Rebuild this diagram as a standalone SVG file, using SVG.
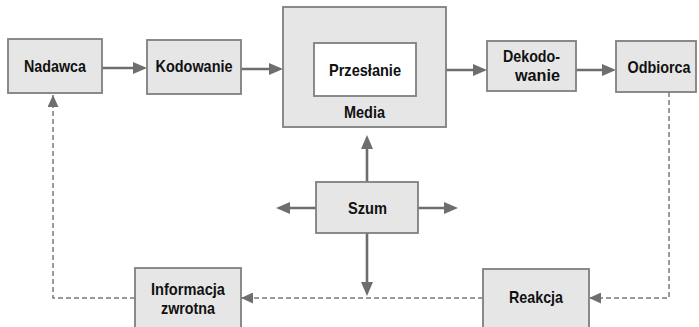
<svg xmlns="http://www.w3.org/2000/svg" width="699" height="327" viewBox="0 0 699 327">
<style>
.box{fill:#e6e6e6;stroke:#7f7f7f;stroke-width:1.8}
.inner{fill:#ffffff;stroke:#7f7f7f;stroke-width:1.8}
.lbl{font-family:"Liberation Sans",Arial,sans-serif;font-weight:bold;font-size:17px;fill:#111;text-anchor:middle}
.arr{fill:none;stroke:#6e6e6e;stroke-width:2.6;marker-end:url(#ah)}
.dash{fill:none;stroke:#7a7a7a;stroke-width:1.5;stroke-dasharray:5 3;marker-end:url(#dh)}
</style>
<defs>
<marker id="ah" markerUnits="userSpaceOnUse" markerWidth="14" markerHeight="12" refX="10" refY="6" orient="auto">
<path d="M0,0 L14,6 L0,12 z" fill="#6e6e6e"/>
</marker>
<marker id="dh" markerUnits="userSpaceOnUse" markerWidth="12" markerHeight="11" refX="12" refY="5.5" orient="auto">
<path d="M0,0 L12,5.5 L0,11 z" fill="#6e6e6e"/>
</marker>
</defs>
<g id="connectors">
<path class="arr" d="M102,68 H143"/>
<path class="arr" d="M241,69 H279"/>
<path class="arr" d="M446,70 H483"/>
<path class="arr" d="M576,70 H612"/>
<path class="arr" d="M367,182 V139"/>
<path class="arr" d="M367,233 V292"/>
<path class="arr" d="M316,208 H280"/>
<path class="arr" d="M418,208 H454"/>
<path class="dash" d="M669,92 V298 H589"/>
<path class="dash" d="M483,298 H241"/>
<path class="dash" d="M135,298 H53 V95"/>
</g>
<g id="nadawca">
<rect class="box" x="8" y="39" width="94" height="54"/>
<text class="lbl" x="55" y="72" textLength="62" lengthAdjust="spacingAndGlyphs">Nadawca</text>
</g>
<g id="kodowanie">
<rect class="box" x="147" y="40" width="94" height="54"/>
<text class="lbl" x="194" y="72" textLength="77" lengthAdjust="spacingAndGlyphs">Kodowanie</text>
</g>
<g id="media">
<rect class="box" x="283" y="7" width="163" height="120"/>
<text class="lbl" x="364.5" y="118" textLength="41" lengthAdjust="spacingAndGlyphs">Media</text>
</g>
<g id="przeslanie">
<rect class="inner" x="314" y="43" width="102" height="53"/>
<text class="lbl" x="365" y="76" textLength="72" lengthAdjust="spacingAndGlyphs">Przesłanie</text>
</g>
<g id="dekodowanie">
<rect class="box" x="487" y="41" width="89" height="50"/>
<text class="lbl" x="531.5" y="62" textLength="57" lengthAdjust="spacingAndGlyphs">Dekodo-</text>
<text class="lbl" x="537.5" y="81" textLength="45" lengthAdjust="spacingAndGlyphs">wanie</text>
</g>
<g id="odbiorca">
<rect class="box" x="616" y="41" width="80" height="51"/>
<text class="lbl" x="659" y="73" textLength="63" lengthAdjust="spacingAndGlyphs" style="font-size:16px">Odbiorca</text>
</g>
<g id="szum">
<rect class="box" x="316" y="182" width="102" height="51"/>
<text class="lbl" x="367.5" y="214" textLength="39" lengthAdjust="spacingAndGlyphs">Szum</text>
</g>
<g id="reakcja">
<rect class="box" x="483" y="269" width="106" height="64"/>
<text class="lbl" x="536" y="303" textLength="54" lengthAdjust="spacingAndGlyphs">Reakcja</text>
</g>
<g id="informacja">
<rect class="box" x="135" y="268" width="106" height="65"/>
<text class="lbl" x="188" y="295" textLength="74" lengthAdjust="spacingAndGlyphs">Informacja</text>
<text class="lbl" x="188" y="314" textLength="54" lengthAdjust="spacingAndGlyphs">zwrotna</text>
</g>
</svg>
